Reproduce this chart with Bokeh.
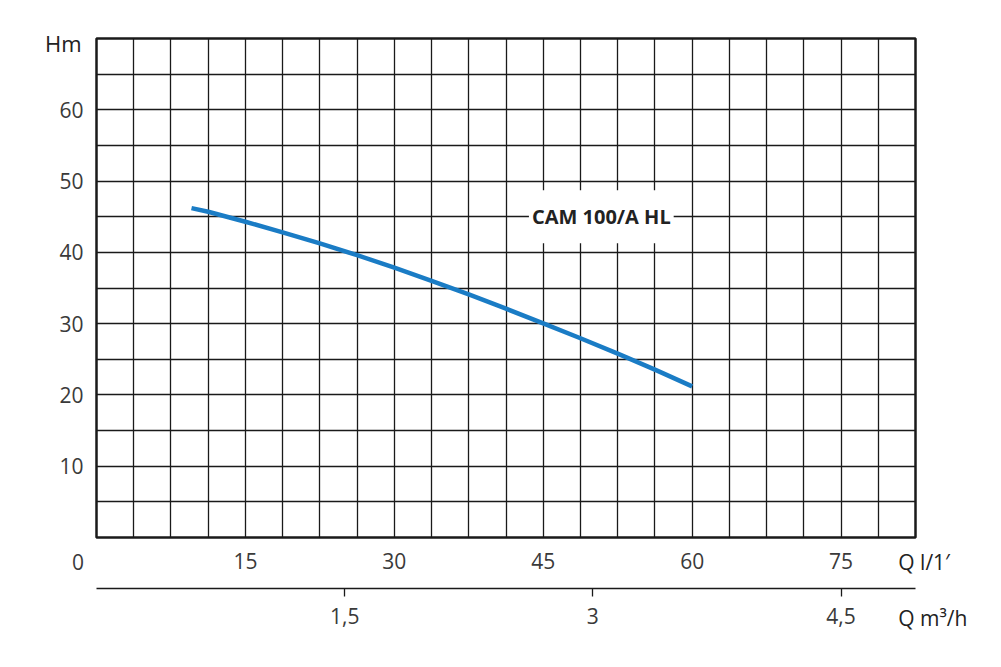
from bokeh.plotting import figure
from bokeh.models import (Range1d, LinearAxis, FixedTicker, Label)
from bokeh.embed import file_html
from bokeh.resources import INLINE

# ---- data ----
q_lmin = [9.57, 11.25, 15, 18.75, 22.5, 26.25, 30, 33.75, 37.5, 41.25, 45, 48.75, 52.5, 56.25, 60]
h_m = [46.2, 45.7, 44.3, 42.8, 41.25, 39.6, 37.85, 36.0, 34.1, 32.1, 30.05, 27.95, 25.8, 23.55, 21.2]
series_name = "CAM 100/A HL"
x_ticks_lmin = [15, 30, 45, 60, 75]
y_ticks = [10, 20, 30, 40, 50, 60]
y_unit_label = "Hm"
x_zero_label = "0"
x_unit_label = "Q l/1\u2032"
x2_unit_label = "Q m\u00b3/h"
x_ticks_m3h = [1.5, 3, 4.5]
x_tick_labels_m3h = {1.5: "1,5", 3: "3", 4.5: "4,5"}
x_grid = [i * 3.75 for i in range(23)]
y_grid = [i * 5 for i in range(15)]
X_MAX = 82.5
Y_MAX = 70
M3H_PER_LMIN = 0.06

FONT = "Open Sans"
TXT = "#3a3a3a"
FS = "21px"

p = figure(width=1000, height=660, output_backend="svg", toolbar_location=None,
           x_range=Range1d(0, X_MAX), y_range=Range1d(0, Y_MAX),
           x_axis_location=None, y_axis_location=None,
           min_border_left=96, min_border_right=85, min_border_top=38, min_border_bottom=123)
p.background_fill_color = "white"
p.border_fill_color = "white"
p.outline_line_color = "#1a1a1a"
p.outline_line_width = 2.5

# grids
p.xgrid.ticker = FixedTicker(ticks=x_grid)
p.ygrid.ticker = FixedTicker(ticks=y_grid)
for g in (p.xgrid, p.ygrid):
    g.grid_line_color = "#1a1a1a"
    g.grid_line_width = 1.3

# left axis
ya = LinearAxis(ticker=FixedTicker(ticks=y_ticks))
ya.axis_line_color = None
ya.major_tick_line_color = None
ya.minor_tick_line_color = None
ya.major_tick_out = 0
ya.major_tick_in = 0
ya.major_label_standoff = 13
ya.major_label_text_font = FONT
ya.major_label_text_font_size = FS
ya.major_label_text_color = TXT
p.add_layout(ya, "left")

# bottom axis l/min
xa = LinearAxis(ticker=FixedTicker(ticks=x_ticks_lmin))
xa.axis_line_color = None
xa.major_tick_line_color = None
xa.minor_tick_line_color = None
xa.major_tick_out = 0
xa.major_tick_in = 0
xa.major_label_standoff = 15
xa.major_label_text_font = FONT
xa.major_label_text_font_size = FS
xa.major_label_text_color = TXT
p.add_layout(xa, "below")

p.extra_x_ranges = {"m3h": Range1d(0, X_MAX * M3H_PER_LMIN)}

# spacer axis (no visible content)
sp = LinearAxis(x_range_name="m3h", ticker=FixedTicker(ticks=[x_ticks_m3h[0]]),
                major_label_overrides={x_ticks_m3h[0]: ""})
sp.axis_line_color = None
sp.major_tick_line_color = None
sp.minor_tick_line_color = None
sp.major_tick_out = 17
sp.major_tick_in = 0
sp.major_label_standoff = 0
sp.major_label_text_font_size = "1px"
sp.major_label_text_color = None
p.add_layout(sp, "below")

# bottom axis m3/h
xb = LinearAxis(x_range_name="m3h", ticker=FixedTicker(ticks=x_ticks_m3h),
                major_label_overrides=x_tick_labels_m3h)
xb.axis_line_color = "#1a1a1a"
xb.axis_line_width = 1.5
xb.major_tick_line_color = "#1a1a1a"
xb.major_tick_line_width = 1.3
xb.minor_tick_line_color = None
xb.major_tick_out = 8
xb.major_tick_in = 0
xb.major_label_standoff = 11
xb.major_label_text_font = FONT
xb.major_label_text_font_size = FS
xb.major_label_text_color = TXT
p.add_layout(xb, "below")

# curve
p.line(q_lmin, h_m, line_color="#1a7cc5", line_width=4.5, line_cap="butt", line_join="round")

# curve label
p.add_layout(Label(x=50.85, y=45, text=series_name, text_align="center", text_baseline="middle",
                   text_font=FONT, text_font_size="20px", text_font_style="bold", text_color="#222222",
                   background_fill_color="white", padding=(3, 13)))

# extra axis texts (placed in side panels so they are not clipped to the frame)
p.add_layout(Label(x=-1.5, y=Y_MAX - 0.66, text=y_unit_label, text_align="right", text_baseline="middle",
                   text_font=FONT, text_font_size="22px", text_color="#222222"), "left")
p.add_layout(Label(x=-1.86, y=-3.4, text=x_zero_label, text_align="center", text_baseline="middle",
                   text_font=FONT, text_font_size=FS, text_color=TXT), "left")
p.add_layout(Label(x=80.77, y=-3.4, text=x_unit_label, text_align="left", text_baseline="middle",
                   text_font=FONT, text_font_size="21px", text_color="#222222"), "right")
p.add_layout(Label(x=80.77, y=-11.36, text=x2_unit_label, text_align="left", text_baseline="middle",
                   text_font=FONT, text_font_size="21px", text_color="#222222"), "above")

open("out.html", "w").write(file_html(p, INLINE))
